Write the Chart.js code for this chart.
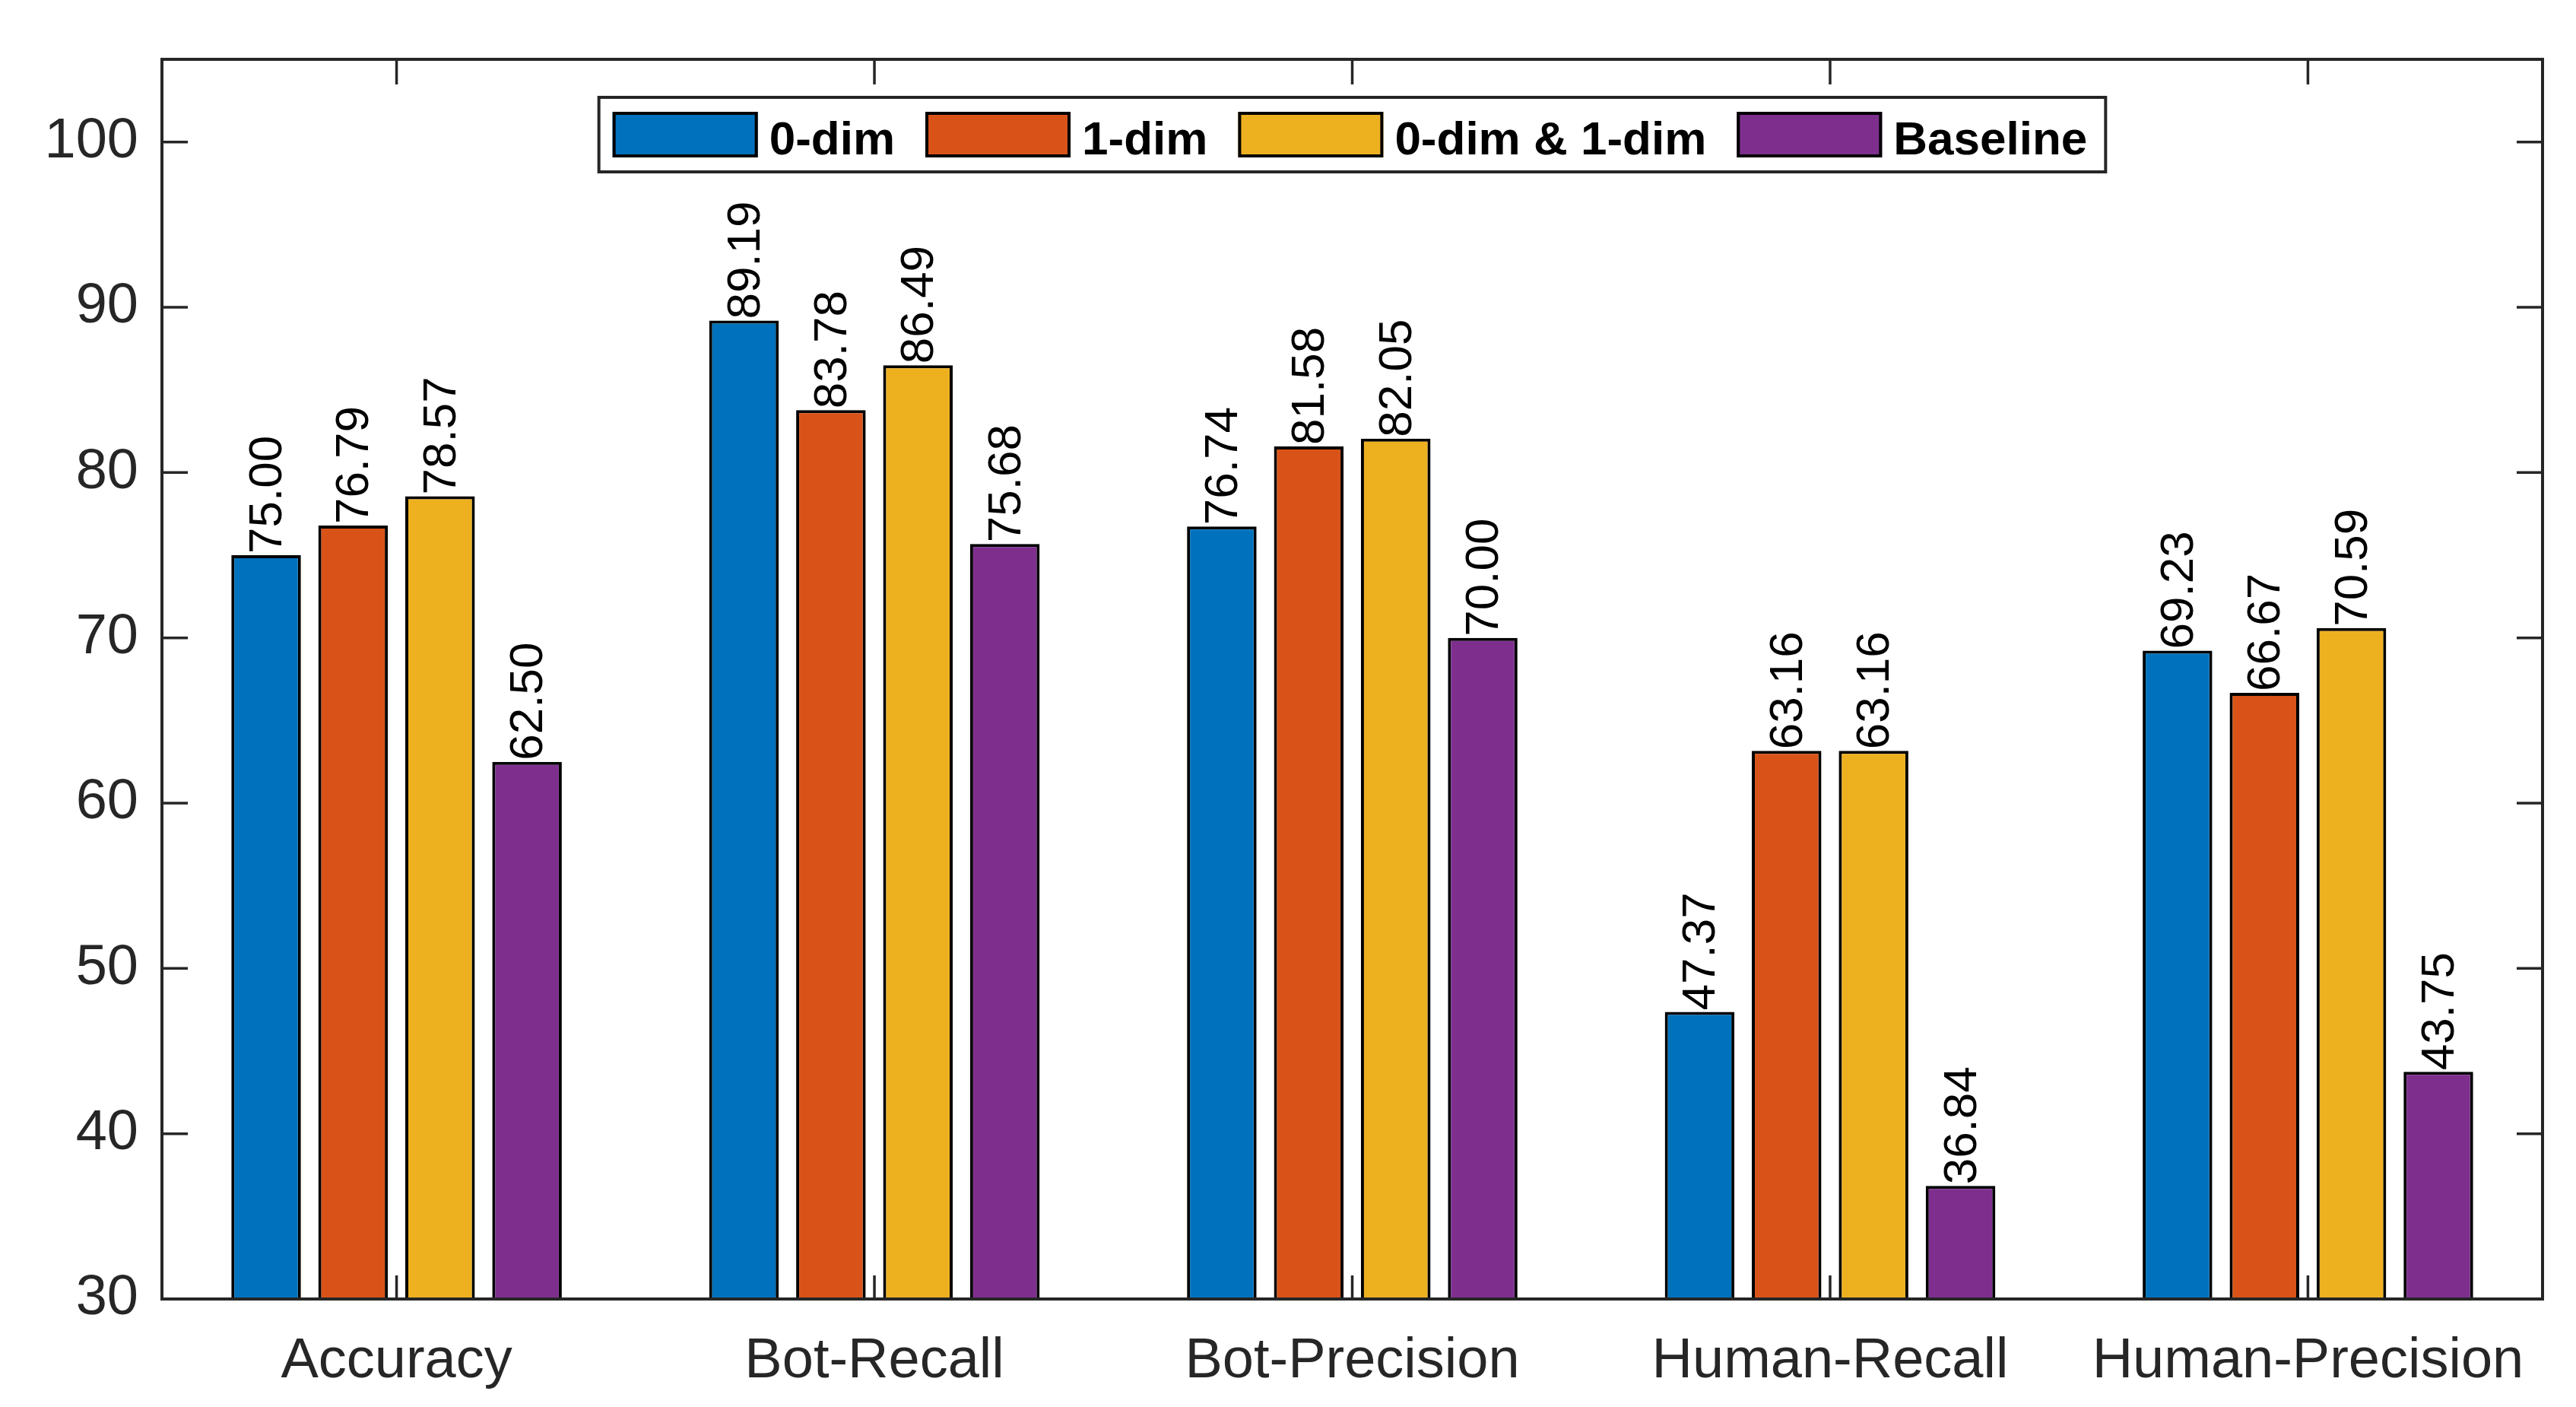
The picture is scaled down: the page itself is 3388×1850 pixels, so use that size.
<!DOCTYPE html>
<html lang="en">
<head>
    <meta charset="UTF-8">
    <title>Bot detection metrics</title>
    <script src="https://cdn.jsdelivr.net/npm/chart.js"></script>
    <style>
        body { margin: 0; background: #fff; }
        #grafico { display: block; }
    </style>
</head>
<body>

    <canvas id="grafico" width="3388" height="1850" style="width:3388px;height:1850px"></canvas>

    <script>
        // categories and the four series
        const categorias = ["Accuracy", "Bot-Recall", "Bot-Precision", "Human-Recall", "Human-Precision"];
        const series = ["0-dim", "1-dim", "0-dim & 1-dim", "Baseline"];
        const dim0 = [75.00, 89.19, 76.74, 47.37, 69.23];
        const dim1 = [76.79, 83.78, 81.58, 63.16, 66.67];
        const dim01 = [78.57, 86.49, 82.05, 63.16, 70.59];
        const baseline = [62.50, 75.68, 70.00, 36.84, 43.75];
        const colores = ["#0072BD", "#D95319", "#EDB120", "#7E2F8E"];

        const ejeColor = "#262626";
        const fuente = '"Liberation Sans", Arial, Helvetica, sans-serif';
        Chart.defaults.font.family = fuente;

        // MATLAB-style box with inward ticks on all four sides
        const marco = {
            id: "marco",
            afterDatasetsDraw(chart) {
                const { ctx, chartArea: a, scales: { x, y } } = chart;
                ctx.save();
                ctx.strokeStyle = ejeColor;
                ctx.lineWidth = 3.5;
                ctx.beginPath();
                y.ticks.forEach(t => {
                    const py = y.getPixelForValue(t.value);
                    ctx.moveTo(a.left, py); ctx.lineTo(a.left + 34, py);
                    ctx.moveTo(a.right, py); ctx.lineTo(a.right - 34, py);
                });
                x.ticks.forEach(t => {
                    const px = x.getPixelForValue(t.value);
                    ctx.moveTo(px, a.bottom); ctx.lineTo(px, a.bottom - 31);
                    ctx.moveTo(px, a.top); ctx.lineTo(px, a.top + 33);
                });
                ctx.stroke();
                ctx.lineWidth = 4;
                ctx.strokeRect(a.left, a.top, a.right - a.left, a.bottom - a.top);
                ctx.restore();
            }
        };

        // rotated value labels on top of each bar
        const etiquetas = {
            id: "etiquetas",
            afterDatasetsDraw(chart) {
                const ctx = chart.ctx;
                ctx.save();
                ctx.fillStyle = "#000";
                ctx.font = "62px " + fuente;
                ctx.textAlign = "left";
                ctx.textBaseline = "middle";
                chart.data.datasets.forEach((ds, i) => {
                    chart.getDatasetMeta(i).data.forEach((bar, j) => {
                        ctx.save();
                        ctx.translate(bar.x + 3, bar.y - 2);
                        ctx.rotate(-Math.PI / 2);
                        ctx.fillText(ds.data[j].y.toFixed(2), 0, 0);
                        ctx.restore();
                    });
                });
                ctx.restore();
            }
        };

        // one-row legend in a box inside the plot, as MATLAB draws it
        const leyenda = {
            id: "leyenda",
            afterDraw(chart) {
                const { ctx, chartArea: a } = chart;
                const cajaW = 191, cajaH = 60, hueco = 15, entre = 40, margenIzq = 18, margenDer = 24;
                ctx.save();
                ctx.font = "bold 62px " + fuente;
                const anchos = chart.data.datasets.map(ds => ctx.measureText(ds.label).width);
                let total = margenIzq + margenDer + entre * (anchos.length - 1);
                anchos.forEach(w => { total += cajaW + hueco + w; });
                const izq = (a.left + a.right) / 2 - total / 2;
                const arriba = a.top + 50;
                const alto = 98;

                ctx.fillStyle = "#fff";
                ctx.fillRect(izq, arriba, total, alto);
                ctx.strokeStyle = ejeColor;
                ctx.lineWidth = 4;
                ctx.strokeRect(izq, arriba, total, alto);

                let x = izq + margenIzq;
                const yCaja = arriba + 19;
                chart.data.datasets.forEach((ds, i) => {
                    ctx.fillStyle = ds.backgroundColor;
                    ctx.fillRect(x, yCaja, cajaW, cajaH);
                    ctx.strokeStyle = "#000";
                    ctx.lineWidth = 4;
                    ctx.strokeRect(x + 2, yCaja + 2, cajaW - 4, cajaH - 4);
                    ctx.fillStyle = "#000";
                    ctx.textAlign = "left";
                    ctx.textBaseline = "alphabetic";
                    ctx.fillText(ds.label, x + cajaW + hueco, yCaja + 56);
                    x += cajaW + hueco + anchos[i] + entre;
                });
                ctx.restore();
            }
        };

        const valores = [dim0, dim1, dim01, baseline];

        new Chart(document.getElementById("grafico").getContext("2d"), {
            type: "bar",
            data: {
                datasets: series.map((nombre, i) => ({
                    label: nombre,
                    data: valores[i].map((v, j) => ({ x: j + 1, y: v })),
                    backgroundColor: colores[i],
                    borderColor: "#000",
                    borderWidth: 4,
                    borderSkipped: false,
                    categoryPercentage: 0.728,
                    barPercentage: 0.8
                }))
            },
            options: {
                responsive: false,
                animation: false,
                devicePixelRatio: 1,
                events: [],
                layout: { padding: { top: 78, right: 44, bottom: 0, left: 0 } },
                scales: {
                    x: {
                        type: "linear",
                        min: 0.509,
                        max: 5.491,
                        offset: false,
                        grid: { display: false, drawTicks: false },
                        border: { display: false },
                        afterBuildTicks(s) { s.ticks = categorias.map((c, i) => ({ value: i + 1 })); },
                        ticks: {
                            color: ejeColor,
                            font: { size: 74 },
                            padding: 38,
                            maxRotation: 0,
                            autoSkip: false,
                            callback: v => categorias[Math.round(v) - 1]
                        },
                        afterFit(s) { s.height = 142; }
                    },
                    y: {
                        min: 30,
                        max: 105,
                        grid: { display: false, drawTicks: false },
                        border: { display: false },
                        ticks: { stepSize: 10, includeBounds: false, color: ejeColor, font: { size: 74 }, padding: 31 },
                        afterFit(s) { s.width = 213; }
                    }
                },
                plugins: {
                    tooltip: { enabled: false },
                    legend: { display: false }
                }
            },
            plugins: [marco, etiquetas, leyenda]
        });
    </script>
</body>
</html>
